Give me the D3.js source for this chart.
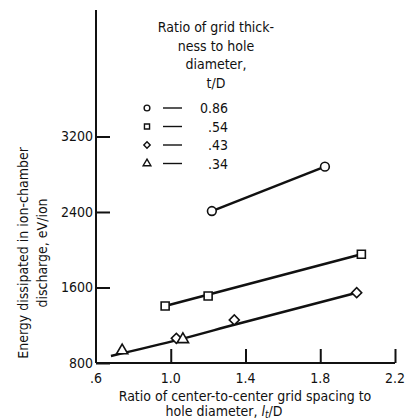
<!DOCTYPE html>
<html>
<head>
	<meta charset=utf-8>
	<title>Energy dissipated vs grid spacing</title>
	<script src="https://d3js.org/d3.v7.min.js"></script>
	<style type="text/css">
		body{ margin: 0; background: #fff; }
		svg text{
			font-family: "DejaVu Sans Condensed", "Liberation Sans Narrow", "DejaVu Sans", sans-serif;
			font-stretch: condensed;
			font-size: 14px;
			fill: #111;
		}
	</style>
</head>
<body>
	<div id="chart"></div>

	<script type="text/javascript">
		// axis ticks
		const xTicks = [0.6, 1.0, 1.4, 1.8, 2.2];
		const xTickLabels = ['.6', '1.0', '1.4', '1.8', '2.2'];
		const yTicks = [800, 1600, 2400, 3200];

		// legend, t/D
		const tdLabels = ['0.86', '.54', '.43', '.34'];
		const tdSymbols = ['circle', 'square', 'diamond', 'triangle'];

		// data points, l_t/D vs eV/ion
		const td86X = [1.22, 1.825];
		const td86Y = [2410, 2880];
		const td54X = [0.97, 1.20, 2.02];
		const td54Y = [1404, 1510, 1952];
		const td43X = [1.03, 1.34, 1.995];
		const td43Y = [1062, 1256, 1545];
		const td34X = [0.74, 1.065];
		const td34Y = [932, 1050];

		// faired curves
		const fit86X = [1.22, 1.825];
		const fit86Y = [2410, 2880];
		const fit54X = [0.97, 2.02];
		const fit54Y = [1404, 1952];
		const fitLowX = [0.68, 1.05, 1.34, 1.995];
		const fitLowY = [875, 1050, 1205, 1545];

		const width = 406, height = 420;
		const x = d3.scaleLinear().domain([0.6, 2.2]).range([96, 395]);
		const y = d3.scaleLinear().domain([800, 4540]).range([363, 10]);

		const svg = d3.select('#chart').append('svg')
			.attr('width', width)
			.attr('height', height);

		const zip = (xs, ys) => xs.map((v, i) => [v, ys[i]]);

		// axes
		const yAxis = d3.axisRight(y).tickValues(yTicks).tickSize(14).tickFormat('');
		svg.append('g')
			.attr('transform', `translate(${x(0.6)},0)`)
			.call(yAxis)
			.call(g => g.select('.domain').attr('d', `M0,${y(4540)}V${y(800)}`));

		const xAxis = d3.axisTop(x).tickValues(xTicks).tickSize(14).tickFormat('');
		svg.append('g')
			.attr('transform', `translate(0,${y(800)})`)
			.call(xAxis)
			.call(g => g.select('.tick').remove())
			.call(g => g.select('.domain').attr('d', `M${x(0.6)},0H${x(2.2)}`));

		svg.selectAll('.domain, .tick line')
			.attr('stroke', '#111')
			.attr('stroke-width', 2);

		// tick labels
		svg.append('g').selectAll('text')
			.data(yTicks)
			.join('text')
			.attr('x', x(0.6) - 3)
			.attr('y', d => y(d) + 5)
			.attr('text-anchor', 'end')
			.text(d => d);

		svg.append('g').selectAll('text')
			.data(xTicks)
			.join('text')
			.attr('x', d => x(d))
			.attr('y', y(800) + 20)
			.attr('text-anchor', 'middle')
			.text((d, i) => xTickLabels[i]);

		// axis titles
		const yTitle = svg.append('text')
			.attr('transform', 'translate(28,253) rotate(-90)')
			.attr('text-anchor', 'middle');
		yTitle.append('tspan').attr('x', 0).attr('dy', 0).text('Energy dissipated in ion-chamber');
		yTitle.append('tspan').attr('x', 0).attr('dy', 19).text('discharge,  eV/ion');

		svg.append('text')
			.attr('x', 245).attr('y', 401)
			.attr('text-anchor', 'middle')
			.text('Ratio of center-to-center grid spacing to');
		const xTitle2 = svg.append('text')
			.attr('x', 224).attr('y', 416)
			.attr('text-anchor', 'middle');
		xTitle2.append('tspan').text('hole diameter,  ');
		xTitle2.append('tspan').attr('font-style', 'italic').text('l');
		xTitle2.append('tspan').attr('dy', 2).attr('font-size', '10px').attr('font-style', 'italic').text('t');
		xTitle2.append('tspan').attr('dy', -2).text('/D');

		// faired lines
		const line = d3.line().x(d => x(d[0])).y(d => y(d[1]));
		const fits = [zip(fit86X, fit86Y), zip(fit54X, fit54Y)];
		svg.append('g').selectAll('path')
			.data(fits)
			.join('path')
			.attr('d', line)
			.attr('fill', 'none')
			.attr('stroke', '#111')
			.attr('stroke-width', 2.5);
		svg.append('path')
			.attr('d', line.curve(d3.curveMonotoneX)(zip(fitLowX, fitLowY)))
			.attr('fill', 'none')
			.attr('stroke', '#111')
			.attr('stroke-width', 2.5);

		// symbols; the diamond is a square turned 45 degrees
		const symType = {
			circle: d3.symbolCircle,
			square: d3.symbolSquare,
			diamond: d3.symbolSquare,
			triangle: d3.symbolTriangle
		};
		const symRot = {circle: 0, square: 0, diamond: 45, triangle: 0};
		const symbolPath = (name, size) => d3.symbol().type(symType[name]).size(size)();

		const series = [
			{sym: 'circle', pts: zip(td86X, td86Y)},
			{sym: 'square', pts: zip(td54X, td54Y)},
			{sym: 'diamond', pts: zip(td43X, td43Y)},
			{sym: 'triangle', pts: zip(td34X, td34Y)}
		];
		const symSize = {circle: 60, square: 64, diamond: 50, triangle: 55};

		svg.append('g').selectAll('g')
			.data(series)
			.join('g')
			.selectAll('path')
			.data(s => s.pts.map(p => ({sym: s.sym, p: p})))
			.join('path')
			.attr('transform', d => `translate(${x(d.p[0])},${y(d.p[1])}) rotate(${symRot[d.sym]})`)
			.attr('d', d => symbolPath(d.sym, symSize[d.sym]))
			.attr('fill', '#fff')
			.attr('stroke', '#111')
			.attr('stroke-width', 1.6);

		// legend
		const legTitle = ['Ratio of grid thick-', 'ness to hole', 'diameter,', 't/D'];
		svg.append('g').selectAll('text')
			.data(legTitle)
			.join('text')
			.attr('x', 216)
			.attr('y', (d, i) => 32 + i * 18.5)
			.attr('text-anchor', 'middle')
			.text(d => d);

		const leg = svg.append('g').selectAll('g')
			.data(tdLabels)
			.join('g')
			.attr('transform', (d, i) => `translate(0,${108 + i * 18.5})`);
		leg.append('path')
			.attr('transform', (d, i) => `translate(147,0) rotate(${symRot[tdSymbols[i]]})`)
			.attr('d', (d, i) => symbolPath(tdSymbols[i], tdSymbols[i] === 'diamond' ? 20 : 26))
			.attr('fill', '#fff')
			.attr('stroke', '#111')
			.attr('stroke-width', 1.4);
		leg.append('line')
			.attr('x1', 163).attr('x2', 182)
			.attr('stroke', '#111')
			.attr('stroke-width', 1.4);
		leg.append('text')
			.attr('x', 228)
			.attr('y', 5)
			.attr('text-anchor', 'end')
			.text(d => d);
	</script>
</body>
</html>
